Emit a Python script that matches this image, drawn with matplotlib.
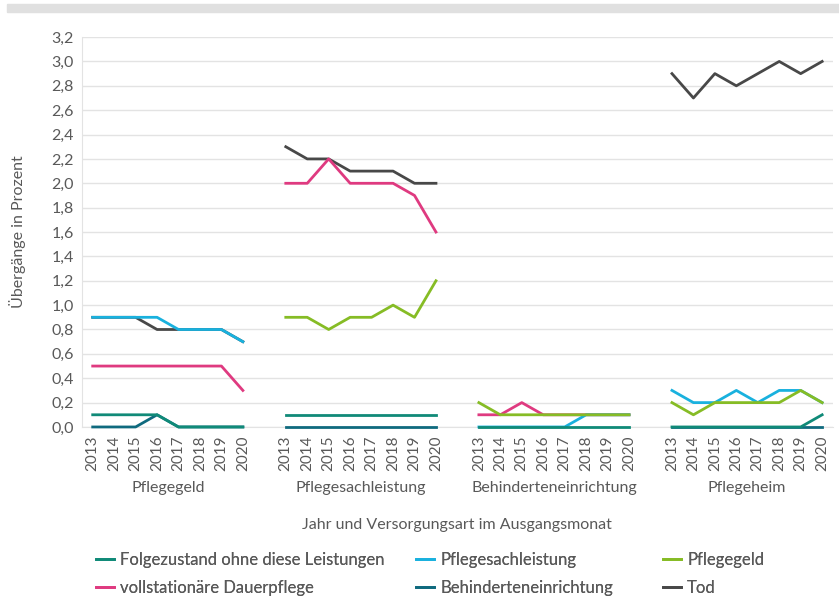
import numpy as np
import matplotlib.pyplot as plt
from matplotlib.patches import Rectangle
from matplotlib.lines import Line2D

plt.rcParams['font.family'] = ['Lato', 'DejaVu Sans']

years = ['2013', '2014', '2015', '2016', '2017', '2018', '2019', '2020']
groups = ['Pflegegeld', 'Pflegesachleistung', 'Behinderteneinrichtung', 'Pflegeheim']
nan = np.nan

# one list of 8 values per group (origin group), NaN where the series is not shown
folgezustand = [
    [0.1, 0.1, 0.1, 0.1, 0.0, 0.0, 0.0, 0.0],
    [0.1, 0.1, 0.1, 0.1, 0.1, 0.1, 0.1, 0.1],
    [0.0, 0.0, 0.0, 0.0, 0.0, 0.0, 0.0, 0.0],
    [0.0, 0.0, 0.0, 0.0, 0.0, 0.0, 0.0, 0.1],
]
pflegesachleistung = [
    [0.9, 0.9, 0.9, 0.9, 0.8, 0.8, 0.8, 0.7],
    [nan] * 8,
    [0.0, 0.0, 0.0, 0.0, 0.0, 0.1, 0.1, 0.1],
    [0.3, 0.2, 0.2, 0.3, 0.2, 0.3, 0.3, 0.2],
]
pflegegeld = [
    [nan] * 8,
    [0.9, 0.9, 0.8, 0.9, 0.9, 1.0, 0.9, 1.2],
    [0.2, 0.1, 0.1, 0.1, 0.1, 0.1, 0.1, 0.1],
    [0.2, 0.1, 0.2, 0.2, 0.2, 0.2, 0.3, 0.2],
]
vollstationaer = [
    [0.5, 0.5, 0.5, 0.5, 0.5, 0.5, 0.5, 0.3],
    [2.0, 2.0, 2.2, 2.0, 2.0, 2.0, 1.9, 1.6],
    [0.1, 0.1, 0.2, 0.1, 0.1, 0.1, 0.1, 0.1],
    [nan] * 8,
]
behinderteneinrichtung = [
    [0.0, 0.0, 0.0, 0.1, 0.0, 0.0, 0.0, 0.0],
    [0.0, 0.0, 0.0, 0.0, 0.0, 0.0, 0.0, 0.0],
    [nan] * 8,
    [0.0, 0.0, 0.0, 0.0, 0.0, 0.0, 0.0, 0.0],
]
tod = [
    [0.9, 0.9, 0.9, 0.8, 0.8, 0.8, 0.8, 0.7],
    [2.3, 2.2, 2.2, 2.1, 2.1, 2.1, 2.0, 2.0],
    [nan] * 8,
    [2.9, 2.7, 2.9, 2.8, 2.9, 3.0, 2.9, 3.0],
]

series = [
    ('Folgezustand ohne diese Leistungen', folgezustand, '#108a78'),
    ('Pflegesachleistung', pflegesachleistung, '#19b1de'),
    ('Pflegegeld', pflegegeld, '#86bc25'),
    ('vollstationäre Dauerpflege', vollstationaer, '#df3a80'),
    ('Behinderteneinrichtung', behinderteneinrichtung, '#0f6a7e'),
    ('Tod', tod, '#484848'),
]
draw_order = ['Tod', 'Behinderteneinrichtung', 'vollstationäre Dauerpflege',
              'Pflegesachleistung', 'Pflegegeld', 'Folgezustand ohne diese Leistungen']

text_col = '#595959'
grid_col = '#e3e3e3'

fig = plt.figure(figsize=(8.39, 5.98), dpi=100)
ax = fig.add_axes([0.0977, 0.286, 0.895, 0.652])

n = len(years)
slot = n + 1
lookup = {s[0]: s for s in series}
for z, name in enumerate(draw_order):
    _, vals, col = lookup[name]
    for g in range(len(groups)):
        x = np.arange(n) + g * slot
        ax.plot(x, vals[g], color=col, lw=2, zorder=3 + z, clip_on=False)

ticks = [g * slot + i for g in range(len(groups)) for i in range(n)]
ax.set_xticks(ticks)
ax.set_xticklabels(years * len(groups), rotation=90, fontsize=11, color=text_col)
ax.set_xlim(-0.5, len(groups) * slot - 1.5)
ax.set_ylim(0, 3.2)
yt = np.arange(0, 3.21, 0.2)
ax.set_yticks(yt)
ax.set_yticklabels([f'{v:.1f}'.replace('.', ',') for v in yt], fontsize=11.5, color=text_col)
ax.tick_params(length=0, pad=6)
ax.grid(axis='y', color=grid_col, lw=1)
ax.set_axisbelow(True)
for s in ['top', 'right']:
    ax.spines[s].set_visible(False)
for s in ['left', 'bottom']:
    ax.spines[s].set_color(grid_col)
ax.set_ylabel('Übergänge in Prozent', fontsize=11.5, color=text_col, labelpad=18)

for g, name in enumerate(groups):
    ax.text(g * slot + (n - 1) / 2, -0.5, name, ha='center', va='center',
            fontsize=11.5, color=text_col, transform=ax.transData, clip_on=False)
fig.text(0.5 * (0.0977 + 0.9927), 1 - 525 / 598, 'Jahr und Versorgungsart im Ausgangsmonat',
         ha='center', va='center', fontsize=11.5, color=text_col)

# legend: three columns placed by hand, two rows each
col_x = [96, 416, 663]
for c in range(3):
    items = [series[c], series[c + 3]]
    handles = [Line2D([], [], color=s[2], lw=2) for s in items]
    leg = fig.legend(handles, [s[0] for s in items], loc='center left',
                     bbox_to_anchor=(col_x[c] / 839, 1 - 574 / 598), frameon=False,
                     fontsize=12, labelcolor=text_col, handlelength=1.1,
                     handletextpad=0.35, labelspacing=0.7, borderaxespad=0, borderpad=0)
    fig.add_artist(leg)

fig.patches.append(Rectangle((7 / 839, 1 - 12 / 598), 1, 8 / 598, transform=fig.transFigure,
                             color='#e0e0e0', zorder=0))

fig.savefig('out.png', dpi=100)
